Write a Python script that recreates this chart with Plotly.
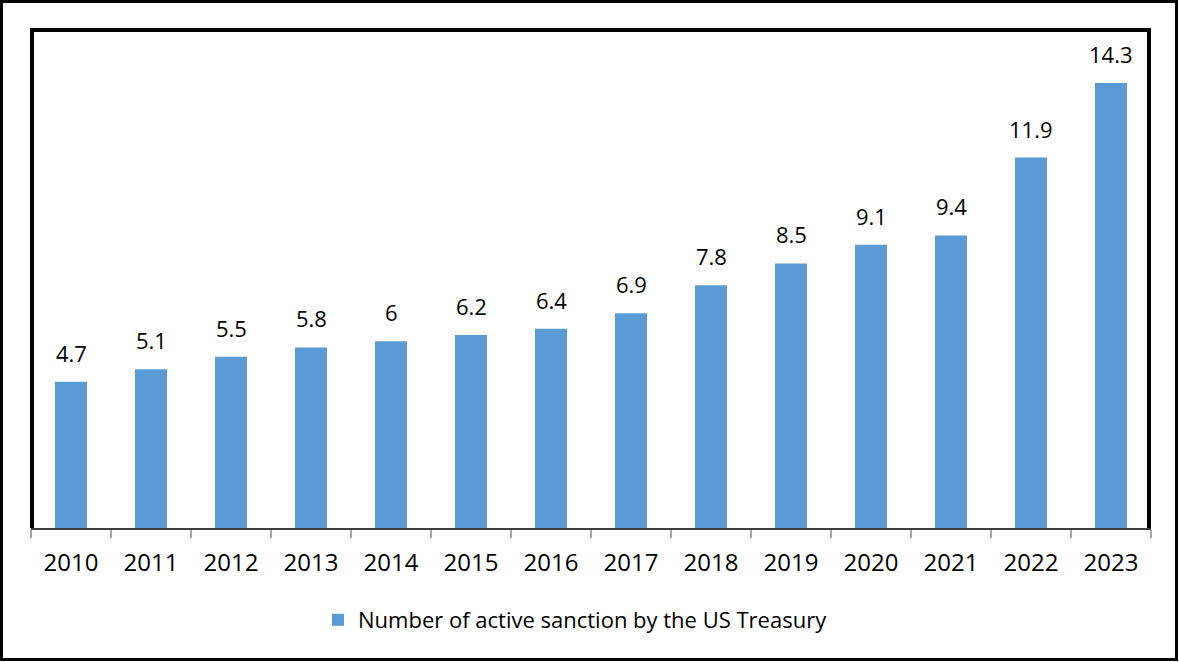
import plotly.graph_objects as go

years = ["2010", "2011", "2012", "2013", "2014", "2015", "2016",
         "2017", "2018", "2019", "2020", "2021", "2022", "2023"]
sanctions = [4.7, 5.1, 5.5, 5.8, 6.0, 6.2, 6.4, 6.9, 7.8, 8.5, 9.1, 9.4, 11.9, 14.3]
series_name = "Number of active sanction by the US Treasury"

W, H = 1179, 662
ML, MR, MT, MB = 31, 28, 30, 134
PW = W - ML - MR
PH = H - MT - MB

def px(x):
    return (x - ML) / PW

def py(y):
    return (H - MB - y) / PH

FONT = "Open Sans"

fig = go.Figure()
fig.add_trace(go.Bar(
    x=years, y=sanctions, name=series_name,
    marker=dict(color="#5B9BD5", line=dict(width=0)),
    showlegend=True,
))

for i, v in enumerate(sanctions):
    fig.add_annotation(x=i, y=v, text=f"{v:g}", showarrow=False,
                       xref="x", yref="y",
                       yanchor="bottom", yshift=12,
                       font=dict(family=FONT, size=22, color="#000000"))

shapes = [
    dict(type="rect", xref="paper", yref="paper",
         x0=px(1.5), x1=px(W - 2.5), y0=py(H - 2.5), y1=py(1.5),
         line=dict(color="#000000", width=3), fillcolor="rgba(0,0,0,0)"),
    dict(type="line", xref="paper", yref="paper",
         x0=px(32), x1=px(32), y0=py(528), y1=py(28),
         line=dict(color="#000000", width=4)),
    dict(type="line", xref="paper", yref="paper",
         x0=px(30), x1=px(1151), y0=py(30), y1=py(30),
         line=dict(color="#000000", width=4)),
    dict(type="line", xref="paper", yref="paper",
         x0=px(1149), x1=px(1149), y0=py(528), y1=py(28),
         line=dict(color="#000000", width=4)),
]

fig.update_layout(
    width=W, height=H,
    margin=dict(l=ML, r=MR, t=MT, b=MB, pad=0),
    paper_bgcolor="#ffffff", plot_bgcolor="#ffffff",
    bargap=0.6,
    shapes=shapes,
    font=dict(family=FONT, color="#000000"),
    legend=dict(orientation="h", xanchor="left", yanchor="middle",
                x=px(318), y=py(620),
                font=dict(family=FONT, size=22, color="#000000"),
                bgcolor="rgba(0,0,0,0)"),
    xaxis=dict(type="category", range=[-0.5, len(years) - 0.5],
               showline=True, linecolor="#404040", linewidth=2,
               ticks="outside", tickson="boundaries", ticklen=8,
               tickcolor="#a6a6a6", tickwidth=1.5, tickangle=0,
               ticklabelstandoff=12,
               tickfont=dict(family=FONT, size=24, color="#000000"),
               showgrid=False, zeroline=False),
    yaxis=dict(range=[0, 16], visible=False, showgrid=False, zeroline=False),
)

fig.write_html("out.html")
